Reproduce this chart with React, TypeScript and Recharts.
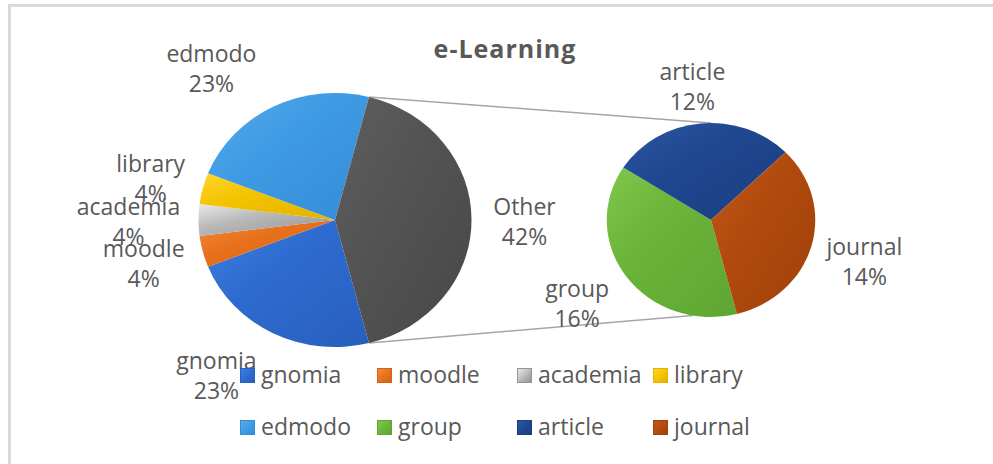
import React from 'react';
import { PieChart, Pie, Cell, Legend, Customized } from 'recharts';

// ---------- data ----------
const primaryCategories = ['gnomia', 'moodle', 'academia', 'library', 'edmodo'];
const primaryValues = [23, 4, 4, 4, 23];
const otherName = 'Other';
const secondaryCategories = ['group', 'article', 'journal'];
const secondaryValues = [16, 12, 14];
const chartTitle = 'e-Learning';

// ---------- styles ----------
const COLORS: Record<string, [string, string, string]> = {
  gnomia: ['#3f7edf', '#2e6bd0', '#285fbd'],
  moodle: ['#f08a3a', '#e8701c', '#d26316'],
  academia: ['#e8e8e8', '#b8b8b8', '#949494'],
  library: ['#ffd52a', '#f4c300', '#e2b200'],
  edmodo: ['#58aceb', '#3f9be4', '#348cd6'],
  Other: ['#5e5e5e', '#545454', '#474747'],
  group: ['#7fc64c', '#6ab43a', '#5ea632'],
  article: ['#2a56a0', '#1f4790', '#1a3e80'],
  journal: ['#c2561a', '#b24a0e', '#9f410a'],
};
const TEXT = '#595959';
const FONT = '"Open Sans", "Noto Sans", sans-serif';
const W = 993;
const H = 464;
const SX = 1.075;
const MAIN = { cx: 335, cy: 220, r: 127 };
const SUB = { cx: 711, cy: 220, r: 97 };
const LABEL_GAP = 30;
const NUDGE: Record<string, [number, number]> = {
  gnomia: [-43, 16],
  moodle: [-30, 5],
  academia: [-40, 2],
  library: [-23, -2],
  edmodo: [-48, -11],
  Other: [23, 2],
  group: [-25, 10],
  article: [-5, -7],
  journal: [24, 8],
};

const sum = (a: number[]) => a.reduce((s, v) => s + v, 0);
const otherValue = sum(secondaryValues);
const mainData = primaryCategories
  .map((name, i) => ({ name, value: primaryValues[i] }))
  .concat([{ name: otherName, value: otherValue }]);
const subData = secondaryCategories.map((name, i) => ({ name, value: secondaryValues[i] }));
const grandTotal = sum(mainData.map((d) => d.value));
const legendNames = [...primaryCategories, ...secondaryCategories];

const otherHalfAngle = (otherValue / grandTotal) * 180;
const START = -otherHalfAngle;
const RAD = Math.PI / 180;

const renderLabel = (props: any) => {
  const { cx, cy, midAngle, outerRadius, value } = props;
  const name = props.payload?.name ?? props.name;
  const a = -midAngle * RAD;
  const [dx, dy] = NUDGE[name] || [0, 0];
  const x = cx + (outerRadius * SX + LABEL_GAP) * Math.cos(a) + dx;
  const y = cy + (outerRadius + LABEL_GAP) * Math.sin(a) + dy;
  const pct = Math.round((value / grandTotal) * 100) + '%';
  return (
    <text textAnchor="middle" fontFamily={FONT} fontSize={23} fill={TEXT}>
      <tspan x={x} y={y - 7}>{name}</tspan>
      <tspan x={x} y={y + 23}>{pct}</tspan>
    </text>
  );
};

const Overlay = () => {
  const pt = (c: { cx: number; cy: number; r: number }, deg: number) => [
    c.cx + c.r * SX * Math.cos(deg * RAD),
    c.cy - c.r * Math.sin(deg * RAD),
  ];
  const [x1, y1] = pt(MAIN, otherHalfAngle);
  const [x2, y2] = pt(SUB, 90);
  const [x3, y3] = pt(MAIN, -otherHalfAngle);
  const [x4, y4] = pt(SUB, -100);
  return (
    <g>
      <line x1={x1} y1={y1} x2={x2} y2={y2} stroke="#a6a6a6" strokeWidth={1.5} />
      <line x1={x3} y1={y3} x2={x4} y2={y4} stroke="#a6a6a6" strokeWidth={1.5} />
      <text x={505} y={58} textAnchor="middle" fontFamily={FONT} fontWeight={700} fontSize={25} letterSpacing={1} fill={TEXT}>
        {chartTitle}
      </text>
    </g>
  );
};

const LegendContent = () => (
  <div
    style={{
      display: 'grid',
      gridTemplateColumns: '137px 140px 136px auto',
      gridAutoRows: '52px',
      fontFamily: FONT,
      fontSize: 23,
      lineHeight: '30px',
      color: TEXT,
    }}
  >
    {legendNames.map((n) => {
      const [l, b, d] = COLORS[n];
      return (
        <div key={n} style={{ display: 'flex', alignItems: 'flex-start', whiteSpace: 'nowrap' }}>
          <span
            style={{
              display: 'inline-block',
              width: 15,
              height: 15,
              marginTop: 9,
              marginRight: 6,
              boxSizing: 'border-box',
              border: `1px solid ${d}`,
              background: `linear-gradient(135deg, ${l}, ${b} 55%, ${d})`,
            }}
          />
          <span>{n}</span>
        </div>
      );
    })}
  </div>
);

export default function App() {
  return (
    <div style={{ position: 'absolute', left: 0, top: 0, width: W, height: H, overflow: 'hidden', background: '#fff' }}>
      <style>{`
        .main-pie .recharts-pie-sector { transform-box: view-box; transform-origin: ${MAIN.cx}px ${MAIN.cy}px; transform: scaleX(${SX}); }
        .sub-pie .recharts-pie-sector { transform-box: view-box; transform-origin: ${SUB.cx}px ${SUB.cy}px; transform: scaleX(${SX}); }
      `}</style>
      <svg width={0} height={0} style={{ position: 'absolute' }}>
        <defs>
          {Object.keys(COLORS).map((k) => {
            const [l, b, d] = COLORS[k];
            return (
              <linearGradient key={k} id={`g-${k}`} x1="0" y1="0" x2="1" y2="1">
                <stop offset="0%" stopColor={l} />
                <stop offset="40%" stopColor={b} />
                <stop offset="100%" stopColor={d} />
              </linearGradient>
            );
          })}
        </defs>
      </svg>
      <div
        style={{
          position: 'absolute',
          left: 8,
          top: 4,
          width: 1100,
          height: 600,
          border: '3px solid #d9d9d9',
        }}
      />
      <div style={{ position: 'absolute', left: 0, top: 0 }}>
        <PieChart width={W} height={H} margin={{ top: 0, right: 0, bottom: 0, left: 0 }}>
          <Customized component={Overlay} />
          <Pie
            className="main-pie"
            data={mainData}
            dataKey="value"
            nameKey="name"
            cx={MAIN.cx}
            cy={MAIN.cy}
            outerRadius={MAIN.r}
            startAngle={START}
            endAngle={START - 360}
            stroke="none"
            label={renderLabel}
            labelLine={false}
            isAnimationActive={false}
          >
            {mainData.map((d) => (
              <Cell key={d.name} fill={`url(#g-${d.name})`} />
            ))}
          </Pie>
          <Pie
            className="sub-pie"
            data={subData}
            dataKey="value"
            nameKey="name"
            cx={SUB.cx}
            cy={SUB.cy}
            outerRadius={SUB.r}
            startAngle={START}
            endAngle={START - 360}
            stroke="none"
            label={renderLabel}
            labelLine={false}
            isAnimationActive={false}
          >
            {subData.map((d) => (
              <Cell key={d.name} fill={`url(#g-${d.name})`} />
            ))}
          </Pie>
          <Legend
            content={<LegendContent />}
            wrapperStyle={{ position: 'absolute', left: 240, top: 359, width: 600, height: 110, bottom: 'auto', right: 'auto' }}
          />
        </PieChart>
      </div>
    </div>
  );
}
